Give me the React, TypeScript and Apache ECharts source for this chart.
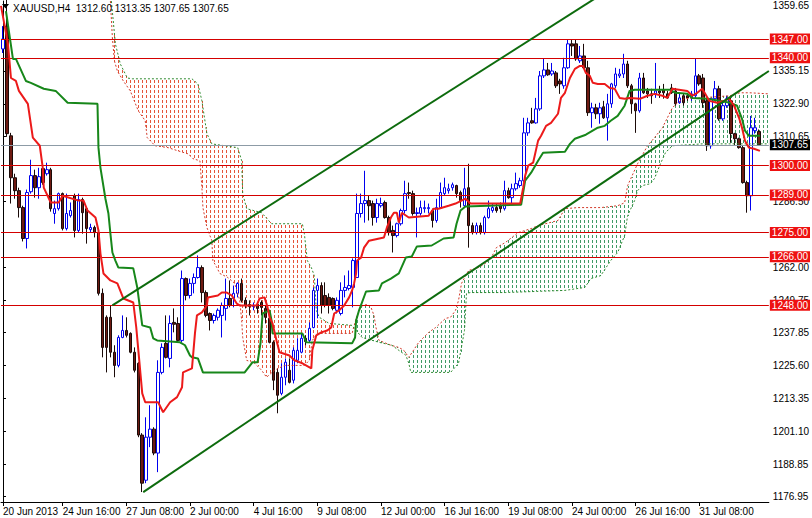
import React, { useEffect, useRef } from 'react';
import * as echarts from 'echarts';

const N_BARS = 193;

// [open, close, low, high]
const candles: number[][] = [
  [1343.3, 1347.0, 1341.8, 1351.8],
  [1351.8, 1311.8, 1310.6, 1362.5],
  [1311.0, 1295.4, 1285.8, 1312.1],
  [1295.4, 1290.6, 1287.6, 1296.9],
  [1290.6, 1284.3, 1280.6, 1291.7],
  [1284.3, 1272.8, 1271.7, 1285.0],
  [1272.8, 1289.9, 1269.1, 1291.0],
  [1290.2, 1296.2, 1289.5, 1302.1],
  [1296.2, 1291.7, 1288.0, 1298.4],
  [1291.7, 1295.8, 1287.6, 1299.1],
  [1298.8, 1293.6, 1292.8, 1299.5],
  [1296.9, 1298.4, 1296.2, 1301.0],
  [1298.4, 1283.9, 1282.8, 1299.1],
  [1282.1, 1283.9, 1278.3, 1286.9],
  [1283.9, 1289.5, 1283.2, 1289.9],
  [1289.5, 1276.5, 1275.8, 1289.9],
  [1276.5, 1282.1, 1275.8, 1289.5],
  [1281.3, 1283.2, 1280.6, 1286.2],
  [1288.7, 1275.8, 1273.2, 1289.5],
  [1275.8, 1287.3, 1275.0, 1289.5],
  [1287.3, 1282.4, 1274.6, 1288.0],
  [1283.9, 1276.5, 1270.9, 1284.3],
  [1276.1, 1276.9, 1275.0, 1278.3],
  [1276.9, 1275.0, 1273.2, 1277.6],
  [1275.0, 1252.4, 1251.6, 1275.8],
  [1252.4, 1232.3, 1228.6, 1254.2],
  [1243.5, 1232.3, 1223.0, 1244.2],
  [1243.5, 1230.5, 1228.6, 1247.9],
  [1230.5, 1225.6, 1221.2, 1233.1],
  [1225.6, 1236.0, 1224.9, 1236.8],
  [1236.0, 1238.6, 1235.7, 1244.2],
  [1238.6, 1236.8, 1236.0, 1243.5],
  [1237.5, 1230.5, 1230.1, 1237.9],
  [1230.5, 1223.8, 1223.0, 1232.3],
  [1226.4, 1199.7, 1198.9, 1226.8],
  [1199.7, 1181.8, 1178.5, 1200.4],
  [1182.9, 1198.9, 1181.8, 1206.3],
  [1198.9, 1201.9, 1195.2, 1210.8],
  [1201.9, 1193.0, 1192.2, 1202.6],
  [1193.0, 1223.0, 1185.9, 1227.5],
  [1223.0, 1232.3, 1222.3, 1233.8],
  [1233.8, 1228.6, 1228.2, 1244.2],
  [1228.2, 1241.2, 1224.9, 1244.2],
  [1241.6, 1240.9, 1237.9, 1246.8],
  [1241.2, 1234.9, 1234.2, 1243.5],
  [1234.9, 1257.9, 1234.2, 1260.9],
  [1257.9, 1251.6, 1249.8, 1258.3],
  [1251.6, 1256.1, 1250.5, 1257.9],
  [1256.1, 1258.3, 1252.4, 1259.8],
  [1258.3, 1262.0, 1257.9, 1266.5],
  [1262.0, 1252.7, 1249.0, 1262.8],
  [1252.7, 1244.2, 1243.5, 1253.5],
  [1244.9, 1242.3, 1238.6, 1245.3],
  [1242.3, 1244.2, 1241.2, 1244.9],
  [1243.5, 1246.1, 1242.3, 1246.8],
  [1244.2, 1247.9, 1236.0, 1249.0],
  [1246.8, 1250.5, 1242.3, 1257.9],
  [1250.5, 1247.9, 1247.2, 1257.2],
  [1250.5, 1252.4, 1247.2, 1255.3],
  [1252.4, 1256.1, 1250.9, 1256.5],
  [1256.1, 1249.8, 1249.0, 1257.9],
  [1249.8, 1247.9, 1246.8, 1250.9],
  [1248.3, 1247.5, 1244.2, 1249.8],
  [1247.5, 1247.9, 1246.1, 1249.0],
  [1248.3, 1246.8, 1244.9, 1249.0],
  [1249.0, 1247.2, 1244.2, 1249.8],
  [1246.8, 1243.5, 1241.2, 1247.9],
  [1243.1, 1234.2, 1233.8, 1244.9],
  [1234.2, 1220.1, 1216.4, 1234.9],
  [1223.0, 1214.5, 1207.8, 1224.5],
  [1215.2, 1221.2, 1214.5, 1226.4],
  [1221.2, 1226.8, 1218.2, 1228.2],
  [1223.8, 1219.3, 1218.9, 1228.2],
  [1220.1, 1231.2, 1218.9, 1232.3],
  [1227.5, 1231.2, 1226.4, 1235.7],
  [1230.5, 1235.7, 1230.1, 1237.5],
  [1235.7, 1234.5, 1233.1, 1236.8],
  [1234.9, 1239.4, 1234.2, 1241.6],
  [1239.7, 1253.5, 1239.4, 1254.6],
  [1253.5, 1255.3, 1243.1, 1257.9],
  [1255.3, 1247.9, 1244.9, 1256.5],
  [1251.6, 1247.9, 1247.2, 1256.5],
  [1250.9, 1247.9, 1244.9, 1252.4],
  [1250.5, 1246.8, 1246.1, 1250.9],
  [1246.1, 1249.8, 1244.9, 1250.9],
  [1244.9, 1253.5, 1244.2, 1256.5],
  [1253.5, 1254.6, 1250.9, 1259.1],
  [1254.2, 1255.3, 1253.5, 1260.9],
  [1254.6, 1264.6, 1247.2, 1265.4],
  [1258.3, 1282.1, 1258.3, 1289.5],
  [1282.1, 1285.8, 1280.6, 1289.5],
  [1285.8, 1286.9, 1278.7, 1298.0],
  [1286.9, 1285.0, 1279.5, 1288.7],
  [1285.8, 1280.6, 1277.6, 1286.9],
  [1280.6, 1285.8, 1278.7, 1287.6],
  [1285.0, 1285.8, 1284.3, 1288.0],
  [1286.2, 1280.6, 1280.2, 1286.9],
  [1280.6, 1275.0, 1273.9, 1281.3],
  [1275.8, 1273.9, 1267.6, 1277.6],
  [1273.9, 1278.3, 1273.2, 1278.7],
  [1278.3, 1283.2, 1277.6, 1283.9],
  [1283.2, 1289.5, 1282.1, 1294.3],
  [1289.9, 1289.5, 1287.6, 1293.6],
  [1289.5, 1282.1, 1281.3, 1290.6],
  [1282.1, 1282.4, 1273.2, 1284.3],
  [1282.1, 1284.3, 1281.3, 1286.9],
  [1283.9, 1284.3, 1282.4, 1286.9],
  [1283.9, 1284.3, 1282.1, 1285.8],
  [1283.2, 1279.5, 1276.9, 1283.9],
  [1279.5, 1284.3, 1278.7, 1287.6],
  [1284.3, 1289.9, 1283.9, 1293.6],
  [1289.5, 1291.7, 1288.7, 1295.4],
  [1290.6, 1291.3, 1289.5, 1293.2],
  [1291.7, 1292.8, 1290.6, 1293.6],
  [1292.5, 1289.5, 1288.0, 1292.8],
  [1289.9, 1286.9, 1284.3, 1290.6],
  [1285.0, 1291.3, 1284.3, 1299.1],
  [1291.7, 1277.6, 1269.4, 1300.6],
  [1277.6, 1275.0, 1274.3, 1278.7],
  [1275.0, 1277.6, 1274.3, 1278.7],
  [1277.6, 1275.0, 1274.3, 1278.7],
  [1275.0, 1280.6, 1274.3, 1281.3],
  [1280.6, 1283.9, 1280.2, 1286.9],
  [1283.2, 1284.3, 1282.4, 1285.8],
  [1284.3, 1283.2, 1282.4, 1285.8],
  [1285.0, 1283.9, 1282.4, 1286.2],
  [1283.9, 1290.6, 1283.2, 1294.3],
  [1290.6, 1288.0, 1287.6, 1291.7],
  [1288.0, 1291.3, 1285.8, 1293.2],
  [1291.3, 1293.2, 1290.6, 1297.3],
  [1292.5, 1294.3, 1291.7, 1295.4],
  [1294.3, 1312.1, 1293.6, 1317.7],
  [1312.1, 1315.8, 1311.0, 1317.7],
  [1316.6, 1315.8, 1315.5, 1321.4],
  [1315.8, 1321.0, 1315.5, 1325.1],
  [1321.0, 1333.3, 1320.3, 1335.1],
  [1333.3, 1335.5, 1332.5, 1339.6],
  [1335.5, 1333.7, 1333.3, 1338.1],
  [1334.0, 1335.1, 1333.3, 1338.1],
  [1334.4, 1329.6, 1328.8, 1335.1],
  [1331.4, 1330.3, 1326.6, 1332.2],
  [1329.6, 1336.3, 1328.5, 1340.0],
  [1336.3, 1345.2, 1335.9, 1347.0],
  [1345.2, 1344.4, 1340.7, 1347.0],
  [1345.2, 1339.6, 1338.9, 1347.0],
  [1338.9, 1340.7, 1338.1, 1344.4],
  [1340.7, 1336.3, 1335.9, 1345.2],
  [1336.3, 1319.6, 1318.4, 1338.9],
  [1319.6, 1321.4, 1314.0, 1323.3],
  [1321.4, 1319.2, 1317.3, 1322.9],
  [1319.2, 1321.4, 1315.5, 1323.3],
  [1321.8, 1317.7, 1317.3, 1324.0],
  [1317.7, 1322.9, 1309.2, 1326.6],
  [1322.9, 1330.3, 1321.4, 1330.7],
  [1329.6, 1334.0, 1328.8, 1336.3],
  [1333.3, 1334.0, 1332.5, 1335.9],
  [1334.0, 1337.7, 1332.5, 1341.5],
  [1337.7, 1329.6, 1328.8, 1338.9],
  [1329.6, 1322.9, 1319.2, 1330.3],
  [1322.9, 1320.3, 1312.1, 1323.3],
  [1320.3, 1332.5, 1319.6, 1334.4],
  [1332.5, 1327.0, 1326.6, 1334.4],
  [1327.7, 1326.6, 1325.1, 1328.8],
  [1326.6, 1325.9, 1322.9, 1328.5],
  [1326.6, 1327.7, 1325.1, 1338.1],
  [1327.7, 1327.0, 1325.1, 1329.6],
  [1328.1, 1327.0, 1324.8, 1330.3],
  [1326.6, 1325.1, 1324.8, 1327.7],
  [1328.8, 1327.0, 1326.6, 1330.3],
  [1327.7, 1322.9, 1322.2, 1328.8],
  [1323.3, 1325.1, 1322.9, 1326.6],
  [1325.9, 1323.3, 1322.2, 1326.6],
  [1325.9, 1325.1, 1324.0, 1326.6],
  [1325.1, 1326.6, 1324.0, 1327.7],
  [1325.9, 1333.3, 1325.1, 1339.6],
  [1333.3, 1330.3, 1329.6, 1334.0],
  [1332.5, 1323.3, 1321.4, 1334.0],
  [1324.0, 1307.3, 1305.4, 1325.1],
  [1307.3, 1324.8, 1306.2, 1325.1],
  [1324.8, 1328.5, 1324.0, 1331.4],
  [1328.5, 1317.3, 1316.6, 1329.6],
  [1317.3, 1322.2, 1316.6, 1324.0],
  [1322.2, 1324.8, 1321.4, 1325.9],
  [1324.0, 1311.8, 1308.4, 1325.1],
  [1311.8, 1309.9, 1307.3, 1312.1],
  [1309.9, 1306.6, 1306.2, 1310.3],
  [1306.6, 1293.6, 1293.2, 1307.3],
  [1293.6, 1288.7, 1282.4, 1294.3],
  [1288.7, 1314.0, 1283.2, 1318.4],
  [1312.9, 1314.0, 1311.8, 1317.7],
  [1312.6, 1307.65, 1307.65, 1313.35],
];

// Ichimoku lines as [bar index, price] vertices
const tenkan: number[][] = [
  [-0.5, 1359.3], [1.25, 1345.2], [2, 1332.5], [3.25, 1331.4], [4, 1327.7], [6.25, 1322.9],
  [7.5, 1310.3], [9.25, 1307.3], [10, 1299.1], [10.25, 1291.7], [12, 1286.2], [14, 1286.2],
  [15, 1288.7], [19, 1286.9], [20.25, 1286.9], [21.25, 1283.2], [23.25, 1280.6], [24, 1275.8],
  [24.5, 1267.2], [25.25, 1259.8], [27, 1257.2], [28.75, 1256.1], [30.25, 1250.5], [32.75, 1249.0],
  [33.5, 1239.7], [34.25, 1227.5], [35, 1215.2], [35.75, 1211.9], [39, 1211.9], [40.25, 1208.2],
  [42, 1211.9], [43.75, 1213.8], [45, 1217.5], [45.25, 1223.0], [47.5, 1224.5], [48.25, 1237.5],
  [48.75, 1244.2], [50, 1245.3], [51.25, 1247.9], [51.5, 1250.9], [54, 1251.6], [55, 1252.7],
  [56.25, 1252.7], [57.5, 1251.6], [58.75, 1248.6], [59.5, 1247.9], [63.75, 1247.9], [64.5, 1250.5],
  [65.75, 1250.9], [66.5, 1247.2], [67, 1243.5], [67.75, 1241.2], [68.75, 1234.9], [69.5, 1230.5],
  [72, 1229.3], [73.25, 1227.5], [75.25, 1226.4], [77.5, 1224.5], [77.75, 1231.2], [78.75, 1236.8],
  [80, 1237.9], [81.5, 1238.6], [82.5, 1239.7], [83.25, 1244.9], [84.5, 1246.1], [85.75, 1247.9],
  [87, 1250.9], [87.75, 1253.5], [88.25, 1256.1], [88.75, 1259.8], [89, 1264.6], [90, 1265.7],
  [90.75, 1269.4], [92, 1272.0], [95.75, 1273.2], [96.5, 1276.9], [97.5, 1280.6], [98.25, 1282.4],
  [99, 1282.4], [99.5, 1278.7], [100.25, 1282.4], [102, 1280.6], [107, 1281.3], [108.25, 1283.9],
  [109.5, 1283.9], [112, 1285.0], [113.75, 1285.8], [116.25, 1287.6], [117.5, 1285.8], [130, 1285.8],
  [130.75, 1291.7], [131.25, 1296.2], [132, 1299.9], [133.25, 1301.0], [134.5, 1309.2], [135.25, 1311.0],
  [136.5, 1314.7], [137.75, 1315.8], [139.5, 1319.2], [140.25, 1325.1], [141.25, 1327.0], [142.5, 1332.5],
  [143.75, 1335.9], [145, 1337.0], [145.75, 1337.0], [146.5, 1334.4], [147.5, 1333.3], [148.25, 1330.7],
  [149.5, 1330.3], [151.25, 1330.3], [152.5, 1328.8], [153.75, 1328.5], [155, 1325.1], [156.25, 1324.8],
  [157.5, 1325.1], [160.25, 1324.8], [162, 1325.9], [163.75, 1326.6], [165.75, 1325.9], [167, 1325.1],
  [168.25, 1328.5], [172, 1327.7], [173.25, 1325.9], [174.5, 1327.0], [175.75, 1328.5], [176.5, 1326.6],
  [177.5, 1324.0], [179.5, 1323.3], [181.25, 1324.0], [182.5, 1324.8], [183.75, 1322.2], [185, 1317.7],
  [185.75, 1314.0], [186.5, 1309.2], [187.5, 1306.6], [188.75, 1306.2], [190.25, 1305.4],
];

const kijun: number[][] = [
  [0.75, 1357.4], [2.5, 1339.6], [3.25, 1339.6], [5.75, 1331.4], [7, 1330.7], [10.25, 1328.5],
  [13.25, 1327.7], [16.25, 1323.3], [23.75, 1322.9], [24, 1306.6], [24.5, 1299.1], [25.75, 1287.6],
  [26.5, 1282.1], [27, 1274.6], [27.5, 1267.6], [28.25, 1264.6], [29, 1262.0], [32.75, 1261.7],
  [33.75, 1254.6], [35, 1240.5], [37, 1239.7], [37.75, 1235.7], [38.75, 1234.9], [44.5, 1234.2],
  [45.75, 1233.1], [47, 1229.3], [47.5, 1228.6], [49, 1228.2], [50.25, 1223.0], [60.75, 1223.0],
  [62.75, 1226.8], [64, 1226.8], [64.75, 1234.2], [65.25, 1244.9], [67, 1246.1], [67.5, 1242.3],
  [67.75, 1237.5], [75.25, 1237.5], [76.25, 1234.2], [87.75, 1233.8], [88.5, 1236.0], [88.75, 1242.3],
  [89.5, 1246.1], [91.25, 1253.1], [94.5, 1253.5], [95.25, 1256.1], [97.5, 1257.9], [99.5, 1259.8],
  [101.25, 1265.7], [102.75, 1266.1], [104, 1269.8], [107.75, 1270.2], [110.75, 1272.8], [113.25, 1273.2],
  [114, 1278.3], [115, 1283.2], [116.25, 1284.7], [130.25, 1285.4], [131.25, 1294.3], [132.75, 1297.3],
  [134.5, 1301.7], [135.75, 1304.7], [141.25, 1305.1], [142.5, 1308.0], [143.75, 1309.9], [146.5, 1311.4],
  [149.5, 1314.0], [151.25, 1314.7], [152.75, 1316.6], [154.5, 1318.4], [156.25, 1322.2], [157.5, 1327.7],
  [158.75, 1328.1], [167.75, 1328.1], [169, 1327.0], [172, 1326.6], [173.25, 1325.1], [177, 1324.8],
  [180, 1324.0], [182.75, 1323.3], [184.5, 1322.2], [185.75, 1317.3], [186.5, 1312.9], [187.5, 1311.0],
  [190.25, 1311.0],
];

const spanA: number[][] = [
  [27, 1361.1], [27.5, 1347.4], [28, 1338.9], [28.75, 1335.1], [30.25, 1331.4], [32, 1327.7],
  [34, 1320.3], [35.75, 1316.6], [36.25, 1310.3], [38.25, 1307.3], [41.5, 1306.6], [44, 1305.4],
  [46.5, 1304.3], [47.75, 1302.5], [49.5, 1301.7], [50, 1291.7], [50.25, 1284.3], [51.25, 1276.9],
  [52.5, 1272.0], [52.75, 1264.6], [53.75, 1262.0], [54.5, 1259.8], [56.5, 1258.3], [58.25, 1256.1],
  [59.5, 1249.8], [60, 1242.3], [60.25, 1236.0], [61.25, 1227.5], [63.25, 1226.4], [65, 1223.8],
  [66.25, 1221.2], [68.25, 1223.8], [70.75, 1225.6], [75.75, 1225.6], [77, 1227.5], [77.75, 1234.9],
  [79, 1237.5], [87.75, 1237.5], [88.75, 1243.1], [90, 1247.6], [91.5, 1248.3], [92.5, 1247.2],
  [93.25, 1244.2], [93.75, 1239.7], [94.5, 1234.9], [97.5, 1233.1], [99.5, 1232.3], [100.75, 1231.2],
  [102, 1228.6], [104.5, 1234.2], [107, 1237.9], [108.75, 1239.7], [111.25, 1243.1], [112.5, 1243.5],
  [113.75, 1246.1], [114.5, 1249.8], [115.25, 1256.1], [117, 1260.9], [119.5, 1262.0], [121.25, 1263.5],
  [122.75, 1265.7], [124, 1269.4], [126.25, 1271.3], [129.5, 1275.0], [132.75, 1276.5], [134.5, 1277.6],
  [139.5, 1279.5], [141.25, 1283.9], [144.5, 1284.3], [150.25, 1284.3], [154.5, 1285.0], [156.25, 1286.1],
  [157, 1292.5], [159.5, 1300.6], [162, 1307.3], [163.75, 1310.3], [165.75, 1314.0], [167, 1317.7],
  [168.25, 1321.4], [169.5, 1323.3], [171.25, 1324.8], [175.25, 1325.1], [182.75, 1325.9], [185.25, 1327.0],
  [187.75, 1327.0], [192.5, 1326.6],
];

const spanB: number[][] = [
  [27.25, 1361.1], [28.25, 1345.2], [29.5, 1337.7], [31.25, 1332.5], [32.5, 1332.2], [47.5, 1332.2],
  [49, 1330.3], [50, 1324.0], [51.25, 1311.8], [52.5, 1308.0], [59, 1306.6], [60, 1301.7],
  [60.25, 1289.5], [61.25, 1283.9], [65, 1282.4], [67.5, 1278.3], [75.25, 1278.3], [75.75, 1274.6],
  [76.5, 1264.6], [77.5, 1262.0], [78.25, 1259.0], [78.75, 1246.1], [79.5, 1243.5], [82, 1241.2],
  [87.75, 1240.5], [88.75, 1238.6], [90.25, 1236.0], [94.5, 1234.2], [97.75, 1233.1], [99.5, 1231.2],
  [101.25, 1229.4], [102, 1226.4], [102.5, 1223.0], [112.5, 1223.0], [114.5, 1226.4], [116, 1238.6],
  [116.5, 1252.4], [117.5, 1252.7], [126.25, 1252.7], [141.25, 1253.5], [146.25, 1254.6], [147.75, 1257.9],
  [150.25, 1259.0], [152.75, 1264.6], [154.5, 1267.6], [156.25, 1273.9], [157, 1281.3], [158.75, 1286.9],
  [159.5, 1290.6], [160.75, 1292.5], [162.75, 1293.2], [163.75, 1295.1], [165.25, 1300.6], [166.5, 1304.7],
  [168.25, 1307.3], [175.75, 1308.0], [192.5, 1308.0],
];

// Trend channel anchors
const upperTrend: number[][] = [[27.5, 1247.9], [160, 1372.6]];
const lowerTrend: number[][] = [[35.25, 1178.5], [192.5, 1335.1]];

// Horizontal levels
const levels: number[] = [1347.0, 1340.0, 1300.0, 1289.0, 1275.0, 1266.0, 1248.0];
const lastPrice = 1307.65;

// Axis
const yTickValues: number[] = [
  1359.65, 1335.15, 1322.9, 1310.65, 1286.5, 1262.0,
  1249.75, 1237.85, 1225.6, 1213.35, 1201.1, 1188.85, 1176.95,
];
const timeTickIndex: number[] = [0, 15, 31, 47, 63, 79, 95, 111, 127, 143, 159, 175];
const timeTickLabels: string[] = [
  '20 Jun 2013', '24 Jun 16:00', '27 Jun 08:00', '2 Jul 00:00', '4 Jul 16:00', '9 Jul 08:00',
  '12 Jul 00:00', '16 Jul 16:00', '19 Jul 08:00', '24 Jul 00:00', '26 Jul 16:00', '31 Jul 08:00',
];
const titleText = 'XAUUSD,H4  1312.60 1313.35 1307.65 1307.65';

const Y_MIN = 1174.8;
const Y_MAX = 1361.13;
const FONT = "'Liberation Sans', Arial, sans-serif";

function interp(pts: number[][], k: number): number | null {
  if (k < pts[0][0] || k > pts[pts.length - 1][0]) return null;
  for (let i = 1; i < pts.length; i++) {
    if (k <= pts[i][0]) {
      const [k0, v0] = pts[i - 1];
      const [k1, v1] = pts[i];
      if (k1 === k0) return v1;
      return v0 + ((v1 - v0) * (k - k0)) / (k1 - k0);
    }
  }
  return null;
}

export default function App() {
  const ref = useRef<HTMLDivElement>(null);

  useEffect(() => {
    if (!ref.current) return;
    const chart = echarts.init(ref.current, undefined, { renderer: 'svg' });

    const labelMap: Record<number, string> = {};
    timeTickIndex.forEach((k, i) => (labelMap[k] = timeTickLabels[i]));
    const cats = Array.from({ length: N_BARS }, (_, i) => String(i));

    const cloudStart = Math.ceil(Math.max(spanA[0][0], spanB[0][0]));
    const cloudEnd = Math.floor(Math.min(spanA[spanA.length - 1][0], spanB[spanB.length - 1][0]));

    const levelLabel = {
      show: true,
      position: 'end',
      distance: 1,
      formatter: (p: any) => Number(p.value).toFixed(2),
      color: '#ffffff',
      backgroundColor: '#ee1111',
      padding: [1, 2, 0, 2],
      fontSize: 10,
      fontFamily: FONT,
    };

    const option: any = {
      animation: false,
      backgroundColor: '#ffffff',
      grid: { left: 0, right: 40, top: 0, bottom: 16, containLabel: false },
      xAxis: [
        {
          type: 'category',
          data: cats,
          boundaryGap: true,
          axisLine: { show: true, lineStyle: { color: '#000', width: 1 } },
          axisTick: {
            show: true,
            length: 4,
            alignWithLabel: true,
            interval: (i: number) => labelMap[i] !== undefined,
            lineStyle: { color: '#000' },
          },
          axisLabel: {
            show: true,
            interval: (i: number) => labelMap[i] !== undefined,
            formatter: (v: string) => labelMap[Number(v)] ?? '',
            align: 'left',
            margin: 4,
            color: '#000',
            fontSize: 10,
            fontFamily: FONT,
          },
          splitLine: { show: false },
        },
        {
          type: 'value',
          min: -0.5,
          max: N_BARS - 0.5,
          show: false,
          splitLine: { show: false },
        },
      ],
      yAxis: {
        type: 'value',
        position: 'right',
        min: Y_MIN,
        max: Y_MAX,
        scale: true,
        axisLine: { show: true, lineStyle: { color: '#000', width: 1 } },
        axisTick: { show: true, length: 3, customValues: yTickValues, lineStyle: { color: '#000' } },
        axisLabel: {
          show: true,
          customValues: yTickValues,
          formatter: (v: number) => v.toFixed(2),
          margin: 4,
          color: '#000',
          fontSize: 10,
          fontFamily: FONT,
        },
        splitLine: { show: false },
      },
      graphic: [
        {
          type: 'polygon',
          shape: { points: [[2, 4], [9, 4], [5.5, 8.5]] },
          style: { fill: '#000' },
          z: 100,
        },
        {
          type: 'text',
          left: 13,
          top: 3,
          style: { text: titleText, fill: '#000', fontSize: 10, fontFamily: FONT },
          z: 100,
        },
      ],
      series: [
        {
          name: 'cloud',
          type: 'custom',
          xAxisIndex: 1,
          yAxisIndex: 0,
          clip: true,
          silent: true,
          z: 1,
          data: [[100, 1300]],
          renderItem: (_params: any, api: any) => {
            const children: any[] = [];
            for (let k = cloudStart; k <= cloudEnd; k++) {
              const a = interp(spanA, k);
              const b = interp(spanB, k);
              if (a === null || b === null) continue;
              const pa = api.coord([k, a]);
              const pb = api.coord([k, b]);
              const top = Math.min(pa[1], pb[1]);
              const bot = Math.max(pa[1], pb[1]);
              if (bot - top < 1) continue;
              const x = Math.round(pa[0]) + 0.5;
              const red = b > a;
              children.push({
                type: 'line',
                shape: { x1: x, y1: Math.round(top), x2: x, y2: Math.round(bot) },
                style: {
                  stroke: red ? '#e4553a' : '#3f9a66',
                  lineWidth: 1,
                  lineDash: [3, 2],
                  lineDashOffset: Math.round(top) % 5,
                },
              });
            }
            return { type: 'group', children };
          },
        },
        {
          name: 'levels',
          type: 'line',
          xAxisIndex: 1,
          data: [],
          z: 2,
          markLine: {
            silent: true,
            symbol: 'none',
            animation: false,
            data: [
              ...levels.map((v) => ({
                yAxis: v,
                lineStyle: { color: '#d40000', width: 1, type: 'solid' },
                label: levelLabel,
              })),
              {
                yAxis: lastPrice,
                lineStyle: { color: '#8d9ba6', width: 1, type: 'solid' },
                label: { ...levelLabel, backgroundColor: '#000000' },
              },
            ],
          },
        },
        {
          name: 'XAUUSD',
          type: 'candlestick',
          xAxisIndex: 0,
          yAxisIndex: 0,
          barWidth: 3,
          z: 3,
          data: candles,
          itemStyle: {
            color: '#ffffff',
            color0: '#6e1a12',
            borderColor: '#0000ee',
            borderColor0: '#1a0a08',
            borderWidth: 1,
          },
        },
        {
          name: 'spanA',
          type: 'line',
          xAxisIndex: 1,
          data: spanA,
          showSymbol: false,
          z: 4,
          lineStyle: { color: '#d23a2a', width: 1, type: [2, 2] },
        },
        {
          name: 'spanB',
          type: 'line',
          xAxisIndex: 1,
          data: spanB,
          showSymbol: false,
          z: 4,
          lineStyle: { color: '#2f8a2f', width: 1, type: [2, 2] },
        },
        {
          name: 'kijun',
          type: 'line',
          xAxisIndex: 1,
          data: kijun,
          showSymbol: false,
          z: 5,
          lineStyle: { color: '#17871a', width: 2 },
        },
        {
          name: 'tenkan',
          type: 'line',
          xAxisIndex: 1,
          data: tenkan,
          showSymbol: false,
          z: 6,
          lineStyle: { color: '#ec1a1a', width: 2 },
        },
        {
          name: 'upperTrend',
          type: 'line',
          xAxisIndex: 1,
          data: upperTrend,
          showSymbol: false,
          z: 7,
          lineStyle: { color: '#0d6b0d', width: 2 },
        },
        {
          name: 'lowerTrend',
          type: 'line',
          xAxisIndex: 1,
          data: lowerTrend,
          showSymbol: false,
          z: 7,
          lineStyle: { color: '#0d6b0d', width: 2 },
        },
      ],
    };

    chart.setOption(option);
    return () => chart.dispose();
  }, []);

  return (
    <div
      ref={ref}
      style={{ position: 'absolute', left: 0, top: 0, width: 812, height: 518, background: '#fff' }}
    />
  );
}
